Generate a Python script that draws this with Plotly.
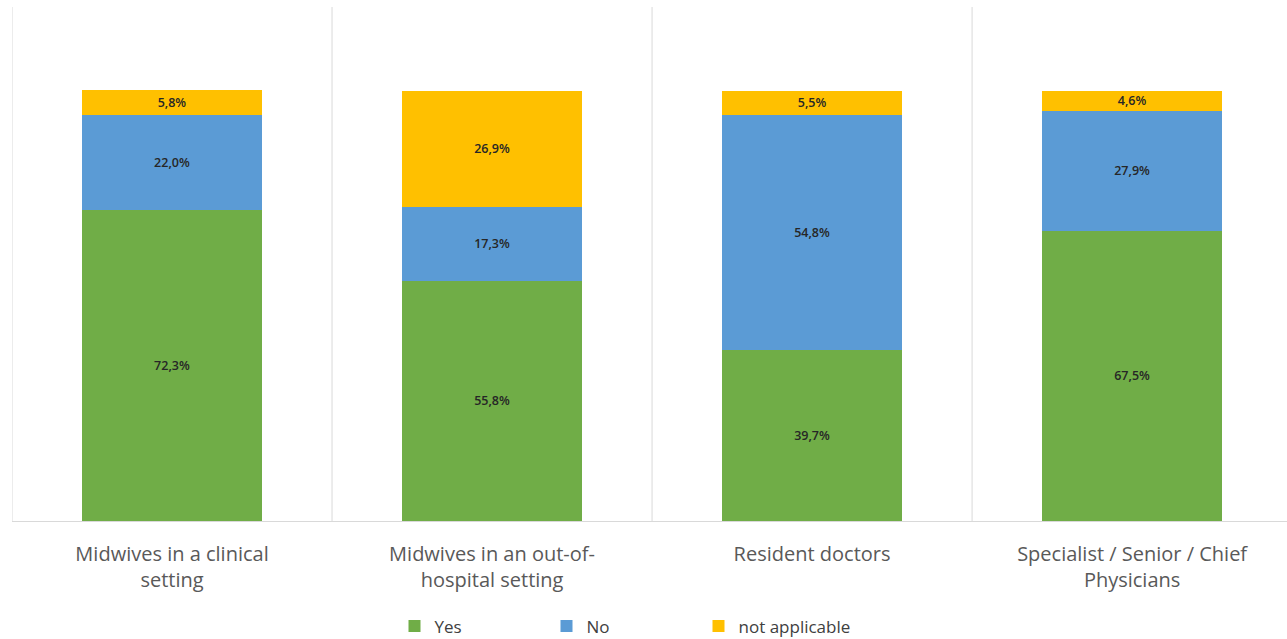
import plotly.graph_objects as go

categories = ["Midwives in a clinical<br>setting",
              "Midwives in an out-of-<br>hospital setting",
              "Resident doctors",
              "Specialist / Senior / Chief<br>Physicians"]
yes_vals = [72.3, 55.8, 39.7, 67.5]
no_vals = [22.0, 17.3, 54.8, 27.9]
na_vals = [5.8, 26.9, 5.5, 4.6]

series = [("Yes", yes_vals, "#70AD47"),
          ("No", no_vals, "#5B9BD5"),
          ("not applicable", na_vals, "#FFC000")]

def fmt(v):
    return f"{v:.1f}".replace(".", ",") + "%"

xs = list(range(len(categories)))
fig = go.Figure()
for name, vals, col in series:
    fig.add_trace(go.Bar(
        x=xs, y=vals, name=name, marker_color=col, marker_line_width=0,
        width=0.5625,
        text=[fmt(v) for v in vals], textposition="inside", insidetextanchor="middle",
        textangle=0, constraintext="none",
        textfont=dict(family="Open Sans", size=12.5, color="#262626", weight=600),
    ))

for b in [-0.5, 0.5, 1.5, 2.5]:
    fig.add_shape(type="line", xref="x", yref="paper", x0=b, x1=b, y0=0, y1=1,
                  line=dict(color="#d9d9d9", width=1), layer="below")

fig.update_layout(
    barmode="stack",
    width=1287, height=639,
    margin=dict(l=12, r=0, t=7, b=118, autoexpand=False),
    plot_bgcolor="white", paper_bgcolor="white",
    showlegend=True,
    legend=dict(orientation="h", x=0.300, xanchor="left", y=-0.205, yanchor="middle",
                entrywidth=107, entrywidthmode="pixels",
                font=dict(family="Open Sans", size=17, color="#404040"),
                itemwidth=30, traceorder="normal"),
)
fig.update_xaxes(
    tickmode="array", tickvals=xs, ticktext=categories,
    range=[-0.5, 3.484], showgrid=False, zeroline=False,
    showline=True, linecolor="#d9d9d9", linewidth=1, ticks="",
    tickfont=dict(family="Open Sans", size=20, color="#595959"),
    ticklabelstandoff=15, automargin=False,
)
fig.update_yaxes(range=[0, 119.5], visible=False, showgrid=False)

fig.write_html("out.html")
